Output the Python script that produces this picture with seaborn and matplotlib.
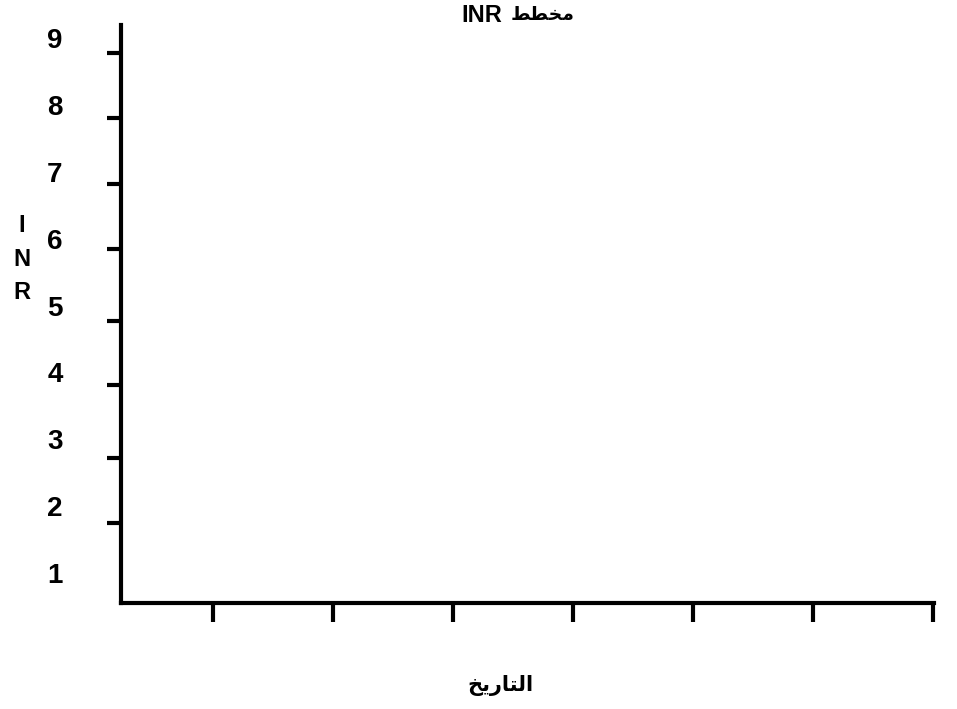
import numpy as np
import pandas as pd
import matplotlib
matplotlib.use("Agg")
import matplotlib.pyplot as plt
import seaborn as sns

# ---- data (empty INR chart template) ----
date_slots = [1, 2, 3, 4, 5, 6, 7]
date_labels = ["", "", "", "", "", "", ""]
inr_values = [np.nan] * 7
y_labels = ["1", "2", "3", "4", "5", "6", "7", "8", "9"]
y_values = [1, 2, 3, 4, 5, 6, 7, 8, 9]
y_tick_marks = [1.75, 2.72, 3.81, 4.77, 5.84, 6.81, 7.80, 8.77]

# Arabic strings, shaped (presentation forms) and in visual order
title_ar = "\uFEC2\uFEC4\uFEA8\uFEE3"          # مخطط
xlabel_ar = "\uFEA6\uFEF3\uFEAD\uFE8E\uFE98\uFEDF\uFE8D"  # التاريخ

sns.set_style("ticks")
plt.rcParams['font.family'] = ['Liberation Sans', 'DejaVu Sans']
plt.rcParams['font.weight'] = 'bold'
plt.rcParams['text.color'] = 'black'
plt.rcParams['xtick.color'] = 'black'
plt.rcParams['ytick.color'] = 'black'
plt.rcParams['xtick.labelcolor'] = 'black'
plt.rcParams['ytick.labelcolor'] = 'black'

fig = plt.figure(figsize=(9.57, 7.09), dpi=100)
ax = fig.add_axes([121/957, 1-603/709, (934-121)/957, (603-25)/709])

df = pd.DataFrame({"date": date_slots, "INR": inr_values})
sns.lineplot(data=df, x="date", y="INR", ax=ax, color="black")

ax.set_xlim(1 - 92/120, 7 + 1/120)
ax.set_ylim(1 - 30/66.9, 9 + 13/66.9)

for s in ["top", "right"]:
    ax.spines[s].set_visible(False)
for s in ["left", "bottom"]:
    ax.spines[s].set_linewidth(3)
    ax.spines[s].set_color("black")
    ax.spines[s].set_capstyle("projecting")

ax.set_xticks(date_slots)
ax.set_xticklabels(date_labels)
ax.tick_params(axis="x", direction="out", length=14, width=3, color="black")

# tick marks (slightly below each label) and labels
ax.set_yticks(y_tick_marks)
ax.set_yticklabels([])
ax.tick_params(axis="y", which="major", direction="out", length=10, width=3, color="black")
ax.set_yticks(y_values, minor=True)
ax.set_yticklabels(y_labels, minor=True)
ax.tick_params(axis="y", which="minor", length=0, pad=42, labelsize=20, labelcolor="black")
for t in ax.get_yticklabels(minor=True):
    t.set_fontweight("bold")

ax.set_xlabel("")
ax.set_ylabel("")
ax.grid(False)

fig.text(502/957, 1-15/709, "INR", ha="right", va="center",
         fontsize=17, fontweight="bold", family=['Liberation Sans'], color="black")
fig.text(511/957, 1-14/709, title_ar, ha="left", va="center",
         fontsize=13.5, fontweight="bold", family=['DejaVu Sans'], color="black")
fig.text(500/957, 1-686/709, xlabel_ar, ha="center", va="center",
         fontsize=15, fontweight="bold", family=['DejaVu Sans'], color="black")
fig.text(22/957, 1-259/709, "I\nN\nR", ha="center", va="center",
         fontsize=17, fontweight="bold", linespacing=1.6,
         family=['Liberation Sans'], color="black")

fig.savefig("out.png", dpi=100, facecolor="white")
